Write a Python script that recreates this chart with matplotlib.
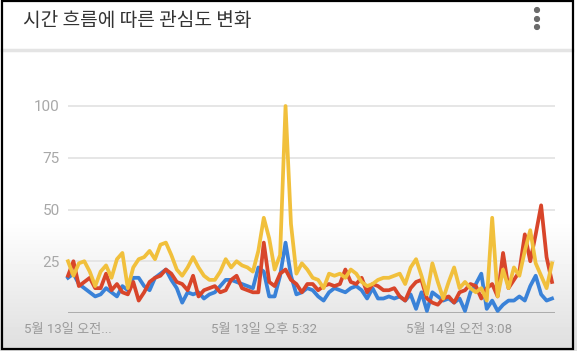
import matplotlib
matplotlib.use("Agg")
from matplotlib import pyplot as plt
import matplotlib.patches as mpatches
import numpy as np

# 16-minute samples over one day (index 0 = 5월 13일 오전 7:56)
blue = [17, 19, 14, 12, 10, 8, 9, 12, 10, 8,
        13, 11, 17, 17, 13, 11, 17, 19, 21, 16,
        12, 5, 10, 9, 10, 7, 9, 10, 13, 16,
        16, 15, 14, 13, 12, 22, 20, 8, 8, 18,
        34, 18, 9, 10, 12, 11, 8, 6, 10, 12,
        11, 10, 12, 13, 11, 7, 12, 7, 7, 8,
        7, 8, 6, 9, 2, 10, 1, 10, 8, 6,
        7, 5, 7, 1, 10, 14, 19, 2, 6, 1,
        4, 6, 6, 8, 6, 13, 18, 9, 6, 7]
red = [18, 25, 13, 15, 17, 12, 12, 19, 11, 14,
       10, 9, 15, 6, 10, 15, 17, 18, 21, 19,
       15, 14, 11, 18, 8, 11, 12, 13, 10, 11,
       16, 18, 12, 11, 10, 10, 34, 15, 13, 19,
       21, 16, 14, 10, 14, 14, 11, 13, 14, 13,
       14, 21, 15, 14, 17, 10, 14, 13, 11, 11,
       12, 8, 6, 12, 15, 16, 7, 5, 4, 7,
       8, 5, 10, 11, 14, 13, 7, 12, 14, 8,
       29, 12, 16, 20, 38, 25, 38, 52, 27, 15]
yellow = [25, 18, 24, 25, 20, 13, 20, 23, 17, 26,
          29, 12, 22, 26, 27, 30, 26, 33, 34, 28,
          21, 18, 22, 27, 22, 18, 16, 16, 20, 26,
          22, 25, 23, 22, 20, 30, 46, 36, 21, 28,
          100, 43, 19, 24, 21, 17, 16, 12, 19, 18,
          19, 17, 21, 19, 15, 13, 14, 16, 17, 17,
          18, 19, 14, 22, 26, 18, 9, 24, 15, 7,
          15, 22, 12, 15, 12, 10, 12, 6, 46, 8,
          21, 12, 22, 18, 30, 40, 24, 18, 12, 24]

tick_pos = [0, 36, 72]
tick_labels = ["5월 13일 오전...", "5월 13일 오후 5:32", "5월 14일 오전 3:08"]
yticks = [25, 50, 75, 100]

fam = ["Roboto", "Noto Sans CJK KR", "DejaVu Sans"]
plt.rcParams["font.family"] = fam

W, H = 577, 351
fig = plt.figure(figsize=(W / 100, H / 100), dpi=100)

# background with soft grey fade at the bottom
bg = fig.add_axes([0, 0, 1, 1], zorder=-5)
grad = np.ones((H, 1))
yy = np.arange(H)
fade = np.clip((yy - 220) / (H - 220), 0, 1)
grad[:, 0] = 1 - 0.13 * fade
bg.imshow(grad, cmap="gray", vmin=0, vmax=1, aspect="auto",
          extent=[0, W, H, 0])
bg.set_xlim(0, W)
bg.set_ylim(H, 0)
bg.axis("off")

# title bar
bg.add_patch(mpatches.Rectangle((2, 1), 570, 47, color="white", zorder=2))
bg.plot([2, 572], [49.5, 49.5], color="#e4e4e4", lw=2.5, zorder=3)
bg.text(23, 20, "시간 흐름에 따른 관심도 변화", fontsize=13.8, color="#333333",
        va="center", ha="left", family=["Noto Sans CJK KR"], zorder=4)
for dy in (10, 19, 27):
    bg.add_patch(mpatches.Circle((537, dy), 2.4, color="#6b6b6b", zorder=4))
# frame
bg.add_patch(mpatches.Rectangle((2, 1), 570.5, 348, fill=False,
                                edgecolor="black", lw=1.6, zorder=5))

ax = fig.add_axes([68 / W, (H - 313) / H, 487 / W, 105 * 2.07 / H])
ax.patch.set_alpha(0)
x = np.arange(len(blue))
ax.plot(x, blue, color="#3a82d8", lw=2.7, clip_on=False, zorder=3)
ax.plot(x, red, color="#d8452a", lw=2.7, clip_on=False, zorder=4)
ax.plot(x, yellow, color="#f1c03c", lw=2.7, clip_on=False, zorder=5)

ax.set_xlim(0, 89.55)
ax.set_ylim(0, 105)
for v in yticks:
    ax.axhline(v, color="#e2e2e2", lw=1.2, zorder=1)
ax.axhline(0, color="#9a9a9a", lw=1.8, zorder=2)
for s in ax.spines.values():
    s.set_visible(False)
ax.set_yticks(yticks)
ax.set_yticklabels([str(v) for v in yticks])
ax.tick_params(axis="y", length=0, pad=6, labelsize=11, labelcolor="#a8a8a8")
ax.set_xticks(tick_pos)
ax.set_xticklabels(tick_labels)
ax.tick_params(axis="x", length=0, pad=7, labelsize=9.5, labelcolor="#9a9a9a")

fig.savefig("out.png", dpi=100)
